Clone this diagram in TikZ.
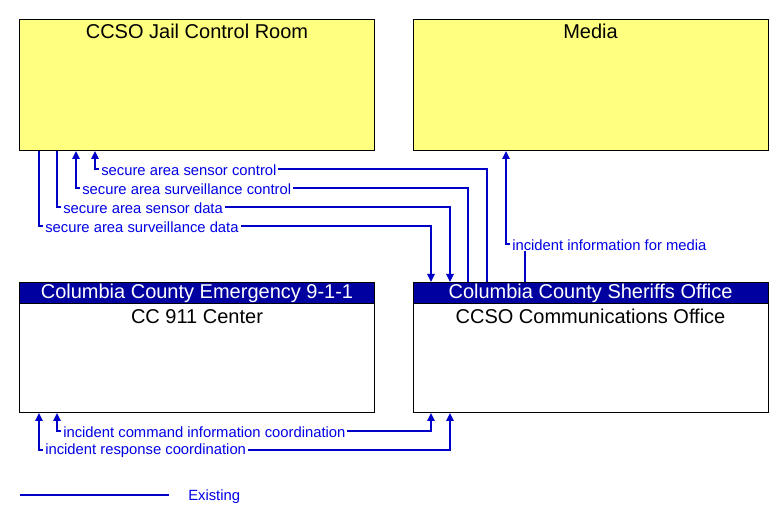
\documentclass[tikz,border=0pt]{standalone}
\usepackage{fontspec}
\setmainfont{Liberation Sans}
\usetikzlibrary{arrows.meta}
\definecolor{flow}{RGB}{0,0,200}
\definecolor{flowtxt}{RGB}{0,0,230}
\definecolor{hdr}{RGB}{0,0,160}
\definecolor{ylw}{RGB}{255,255,128}
\tikzset{
  box/.style={draw=black, line width=0.75pt, anchor=north west, inner sep=0pt, minimum width=266.5pt},
  ybox/.style={box, fill=ylw, minimum height=98.25pt},
  wbox/.style={box, fill=white, minimum height=97.5pt},
  hbox/.style={box, fill=hdr, minimum height=15.75pt},
  ttl/.style={font=\fontsize{15}{16}\selectfont, text=black, inner sep=0pt},
  httl/.style={font=\fontsize{15}{16}\selectfont, text=white, inner sep=0pt},
  flowline/.style={draw=flow, line width=1.6pt},
  arr/.style={-{Triangle[length=6pt,width=5.5pt]}},
  darr/.style={{Triangle[length=6pt,width=5.5pt]}-{Triangle[length=6pt,width=5.5pt]}},
  lbl/.style={font=\fontsize{11.1}{12}\selectfont, text=flowtxt, fill=white, inner xsep=1.5pt, inner ysep=0.5pt, anchor=west, yshift=-0.6pt}
}
\begin{document}
\begin{tikzpicture}[x=0.75pt, y=-0.75pt]
\useasboundingbox (0,0) rectangle (783,524);
% boxes
\node[ybox] (jail) at (19,19) {};
\node[ybox] (media) at (413,19) {};
\node[wbox] (cc) at (19,282) {};
\node[wbox] (comm) at (413,282) {};
\node[hbox] (cchdr) at (19,282) {};
\node[hbox] (commhdr) at (413,282) {};
% titles
\node[ttl] (jailt) at (197,31.5) {CCSO Jail Control Room};
\node[ttl] (mediat) at (590.5,31.5) {Media};
\node[httl] (cchdrt) at (197,293.5) {Columbia County Emergency 9-1-1};
\node[httl] (commhdrt) at (590.5,293.5) {Columbia County Sheriffs Office};
\node[ttl] (cct) at (197,316.5) {CC 911 Center};
\node[ttl] (commt) at (590.5,316.5) {CCSO Communications Office};
% columns and rows
\coordinate (c39) at (39,0);
\coordinate (c57) at (57,0);
\coordinate (c76) at (76,0);
\coordinate (c95) at (95,0);
\coordinate (c431) at (431,0);
\coordinate (c450) at (450,0);
\coordinate (c468) at (468,0);
\coordinate (c487) at (487,0);
\coordinate (c506) at (506,0);
\coordinate (c525) at (525,0);
\coordinate (r169) at (0,169);
\coordinate (r188) at (0,188);
\coordinate (r207) at (0,207);
\coordinate (r226) at (0,226);
\coordinate (r244) at (0,244);
\coordinate (r431) at (0,431);
\coordinate (r450) at (0,450);
% flows jail <-> comm
\draw[flowline, arr] (comm.north -| c487) |- (r169 -| c95) -- (jail.south -| c95);
\draw[flowline, arr] (comm.north -| c468) |- (r188 -| c76) -- (jail.south -| c76);
\draw[flowline, arr] (jail.south -| c57) |- (r207 -| c450) -- (comm.north -| c450);
\draw[flowline, arr] (jail.south -| c39) |- (r226 -| c431) -- (comm.north -| c431);
\node[lbl] (l1) at ([xshift=3pt]r169 -| c95) {secure area sensor control};
\node[lbl] (l2) at ([xshift=3pt]r188 -| c76) {secure area surveillance control};
\node[lbl] (l3) at ([xshift=3pt]r207 -| c57) {secure area sensor data};
\node[lbl] (l4) at ([xshift=3pt]r226 -| c39) {secure area surveillance data};
% media
\draw[flowline, arr] (comm.north -| c525) |- (r244 -| c506) -- (media.south -| c506);
\node[lbl] (l5) at ([xshift=3pt]r244 -| c506) {incident information for media};
% bottom
\draw[flowline, darr] (cc.south -| c57) |- (r431 -| c431) -- (comm.south -| c431);
\draw[flowline, darr] (cc.south -| c39) |- (r450 -| c450) -- (comm.south -| c450);
\node[lbl] (l6) at ([xshift=3pt]r431 -| c57) {incident command information coordination};
\node[lbl] (l7) at ([xshift=3pt]r450 -| c39) {incident response coordination};
% legend
\coordinate (lg1) at (20,495);
\coordinate (lg2) at (169,495);
\draw[flowline] (lg1) -- (lg2);
\node[lbl, fill=none] (lgt) at (186,496) {Existing};
\end{tikzpicture}
\end{document}
